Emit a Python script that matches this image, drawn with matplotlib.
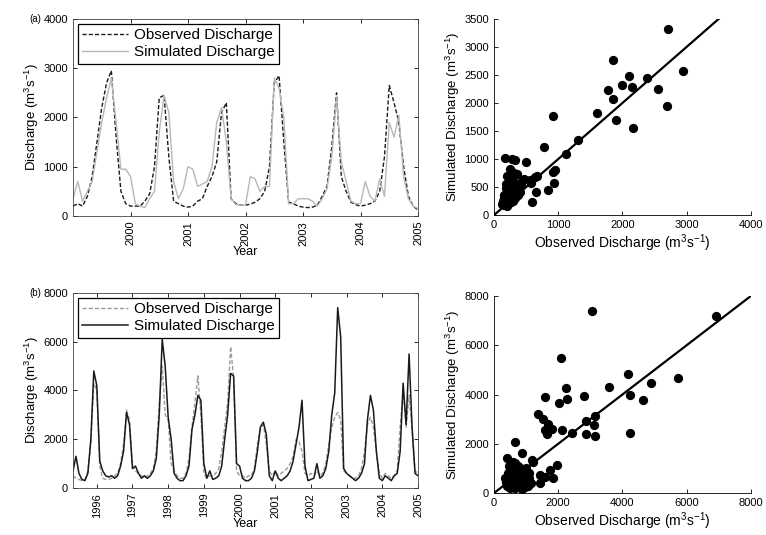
import matplotlib
matplotlib.use('Agg')
import matplotlib.pyplot as plt
import numpy as np

plt.rcParams['font.family'] = ['Liberation Sans', 'DejaVu Sans']
plt.rcParams['mathtext.default'] = 'regular'

# (a) monthly discharge, Jan 1999 - Jan 2005
obs_a = [200, 250, 200, 400, 800, 1500, 2200, 2700, 2950, 1600, 500, 250,
         200, 200, 200, 300, 450, 1000, 2400, 2450, 1200, 300, 250, 200,
         180, 200, 300, 350, 600, 800, 1100, 2100, 2300, 350, 250, 220,
         220, 240, 280, 350, 500, 1000, 2700, 2850, 1500, 280, 250, 200,
         180, 170, 180, 220, 400, 600, 1400, 2500, 800, 500, 280, 230,
         200, 220, 250, 300, 500, 1200, 2650, 2300, 1900, 1000, 400, 200,
         120]
sim_a = [350, 700, 300, 500, 700, 1300, 1900, 2400, 2800, 1900, 950, 950,
         800, 250, 200, 170, 350, 500, 1700, 2450, 2100, 700, 350, 550,
         1000, 950, 600, 650, 700, 1000, 1900, 2200, 1500, 350, 230, 220,
         220, 800, 750, 500, 600, 600, 2800, 2600, 2000, 250, 250, 350,
         350, 350, 300, 200, 350, 550, 1200, 2400, 1100, 700, 300, 250,
         250, 700, 400, 300, 750, 400, 1900, 1600, 2050, 800, 350, 200,
         150]
start_a = 1999.0
years_a = [2000, 2001, 2002, 2003, 2004, 2005]

# (b) monthly discharge, May 1995 - Jan 2005
obs_b = [500, 400, 350, 300, 350, 700, 1800, 4300, 4000, 900, 400, 350,
         350, 400, 500, 600, 1000, 1800, 3200, 2800, 900, 700, 600, 500,
         400, 500, 600, 800, 1500, 3500, 5000, 3000, 2800, 1000, 700, 500,
         400, 400, 600, 1200, 2500, 3500, 4600, 3000, 600, 400, 500, 500,
         600, 800, 1500, 2500, 3500, 5800, 4500, 700, 500, 500, 400, 500,
         500, 800, 1800, 2400, 2600, 1800, 700, 500, 700, 500, 600, 700,
         800, 1000, 1300, 2000, 1900, 1500, 600, 500, 600, 500, 700, 500,
         600, 1000, 1800, 2500, 2900, 3100, 2800, 700, 600, 500, 400, 400,
         500, 800, 1500, 2600, 2900, 2500, 1500, 600, 400, 600, 500, 400,
         500, 700, 2500, 4000, 2500, 3800, 2400, 700, 600]
sim_b = [700, 1300, 600, 350, 300, 600, 2000, 4800, 4200, 1100, 700, 500,
         450, 500, 400, 500, 900, 1500, 3100, 2600, 800, 900, 600, 400,
         500, 400, 500, 700, 1200, 3000, 6100, 5000, 2900, 2000, 600, 400,
         300, 300, 500, 900, 2400, 3000, 3800, 3600, 1000, 400, 700, 350,
         400, 500, 900, 2000, 3000, 4700, 4600, 1000, 900, 400, 300, 300,
         400, 700, 1500, 2500, 2700, 2200, 500, 300, 700, 400, 300, 400,
         500, 700, 1100, 1800, 2500, 3600, 900, 300, 350, 400, 1000, 400,
         500, 800, 1500, 3000, 3900, 7400, 6200, 800, 600, 500, 400, 300,
         400, 600, 1000, 2800, 3800, 3200, 1500, 400, 300, 500, 400, 300,
         500, 600, 1500, 4300, 2600, 5500, 2500, 600, 500]
start_b = 1995.0 + 4 / 12
years_b = [1996, 1997, 1998, 1999, 2000, 2001, 2002, 2003, 2004, 2005]

# scatter pairs (observed, simulated)
sc_obs_a = [170, 280, 330, 250, 260, 310, 350, 200, 230, 280, 300, 180, 220, 260,
            320, 380, 420, 200, 240, 290, 350, 400, 150, 190, 230, 280, 330, 370,
            140, 180, 210, 260, 300, 160, 200, 120, 240, 440, 470, 150, 310, 190,
            230, 270, 210,
            500, 585, 570, 640, 675, 650, 845, 935, 915, 920, 780, 1115, 1310,
            1610, 1900, 1850, 1780, 2000, 1860, 2170, 2105, 2150, 2390, 2560,
            2690, 2950, 2710, 560, 950]
sc_sim_a = [1010, 1000, 980, 820, 780, 750, 740, 700, 650, 620, 600, 560, 520, 500,
            480, 520, 560, 450, 420, 400, 380, 420, 350, 330, 300, 320, 300, 350,
            250, 220, 200, 240, 260, 180, 160, 200, 600, 600, 640, 300, 550, 480,
            380, 460, 260,
            950, 240, 580, 680, 700, 420, 445, 580, 760, 1775, 1220, 1090, 1340,
            1830, 1700, 2080, 2230, 2320, 2770, 1550, 2480, 2290, 2450, 2245,
            1950, 2570, 3330, 620, 800]

sc_obs_b = [400, 450, 500, 550, 600, 650, 700, 750, 800, 850, 900, 950, 1000, 1050,
            1100, 500, 600, 700, 800, 900, 350, 420, 480, 520, 580, 620, 680, 750,
            1000, 1200, 1100, 950, 650, 380, 460, 540, 720, 820, 880, 1150,
            650, 870, 1180, 400, 590, 1430, 1740, 1960, 1590, 1840, 1430,
            3040, 6930, 2100, 4180, 5740, 4900, 3590, 2230, 1590, 2020, 2260, 2810,
            4250, 4630, 1380, 1540, 1690, 1800, 1640, 1590, 2130, 2440, 2880, 3140,
            3120, 2880, 3140, 4230]
sc_sim_b = [300, 500, 700, 900, 1000, 1200, 800, 600, 400, 300, 500, 700, 400, 300,
            800, 200, 300, 400, 700, 900, 600, 800, 1100, 400, 600, 500, 1000, 1100,
            1000, 1250, 600, 250, 200, 450, 350, 650, 300, 1000, 150, 400,
            2070, 1620, 1340, 1420, 1260, 730, 930, 1140, 650, 610, 400,
            7415, 7210, 5490, 4820, 4670, 4490, 4290, 4260, 3900, 3650, 3830, 3940,
            3990, 3790, 3220, 3020, 2790, 2610, 2410, 2540, 2570, 2440, 2920, 3130,
            2770, 2380, 2300, 2450]

fig = plt.figure(figsize=(7.66, 5.35), dpi=100)
ylab = 'Discharge (m$^{3}$s$^{-1}$)'


def time_panel(rect, obs, sim, start, years, ymax, ystep, tag, obs_style, sim_style):
    ax = fig.add_axes(rect)
    t = start + np.arange(len(obs)) / 12.0
    ax.plot(t, obs, label='Observed Discharge', **obs_style)
    ax.plot(t, sim, label='Simulated Discharge', **sim_style)
    ax.set_xlim(start, 2005)
    ax.set_ylim(0, ymax)
    ax.set_xticks(years)
    ax.set_xticklabels([str(y) for y in years], rotation=90, fontsize=8)
    ax.set_yticks(np.arange(0, ymax + 1, ystep))
    ax.tick_params(direction='in', top=True, right=True, length=3, labelsize=8, width=0.6)
    for s in ax.spines.values():
        s.set_linewidth(0.6)
        s.set_color('#444444')
    ax.set_ylabel(ylab, fontsize=9.5, labelpad=2)
    ax.set_xlabel('Year', fontsize=9, labelpad=0)
    leg = ax.legend(loc='upper left', fontsize=11, handlelength=3.0, fancybox=False,
                    framealpha=1, edgecolor='black', borderpad=0.3, labelspacing=0.2,
                    borderaxespad=0.3, handletextpad=0.4)
    leg.get_frame().set_linewidth(0.9)
    ax.text(-0.092, 1.0, tag, transform=ax.transAxes, fontsize=7, ha='right', va='center')
    return ax


def scatter_panel(rect, xo, ys, lim, xstep, ystep, ylim):
    ax = fig.add_axes(rect)
    ax.scatter(xo, ys, s=32, color='black', zorder=3)
    ax.plot([0, lim], [0, lim], color='black', linewidth=1.6, zorder=2)
    ax.set_xlim(0, lim)
    ax.set_ylim(0, ylim)
    ax.set_xticks(np.arange(0, lim + 1, xstep))
    ax.set_yticks(np.arange(0, ylim + 1, ystep))
    ax.spines['top'].set_visible(False)
    ax.spines['right'].set_visible(False)
    for s in ('left', 'bottom'):
        ax.spines[s].set_linewidth(0.6)
    ax.tick_params(direction='in', length=3, labelsize=8, width=0.6)
    ax.set_xlabel('Observed Discharge (m$^{3}$s$^{-1}$)', fontsize=10, labelpad=2)
    ax.set_ylabel('Simulated Discharge (m$^{3}$s$^{-1}$)', fontsize=9.5, labelpad=2)
    return ax


time_panel([0.0953, 0.5963, 0.4504, 0.3682], obs_a, sim_a, start_a, years_a, 4000, 1000, '(a)',
           dict(color='#1a1a1a', linestyle=(0, (3, 1.5)), linewidth=1.0),
           dict(color='#b8b8b8', linestyle='-', linewidth=1.0))
time_panel([0.0953, 0.0879, 0.4504, 0.3644], obs_b, sim_b, start_b, years_b, 8000, 2000, '(b)',
           dict(color='#9a9a9a', linestyle=(0, (3, 1.5)), linewidth=1.0),
           dict(color='#1a1a1a', linestyle='-', linewidth=1.1))

scatter_panel([0.645, 0.598, 0.335, 0.3665], sc_obs_a, sc_sim_a, 4000, 1000, 500, 3500)
scatter_panel([0.645, 0.0785, 0.335, 0.368], sc_obs_b, sc_sim_b, 8000, 2000, 2000, 8000)

fig.savefig('out.png', dpi=100)
